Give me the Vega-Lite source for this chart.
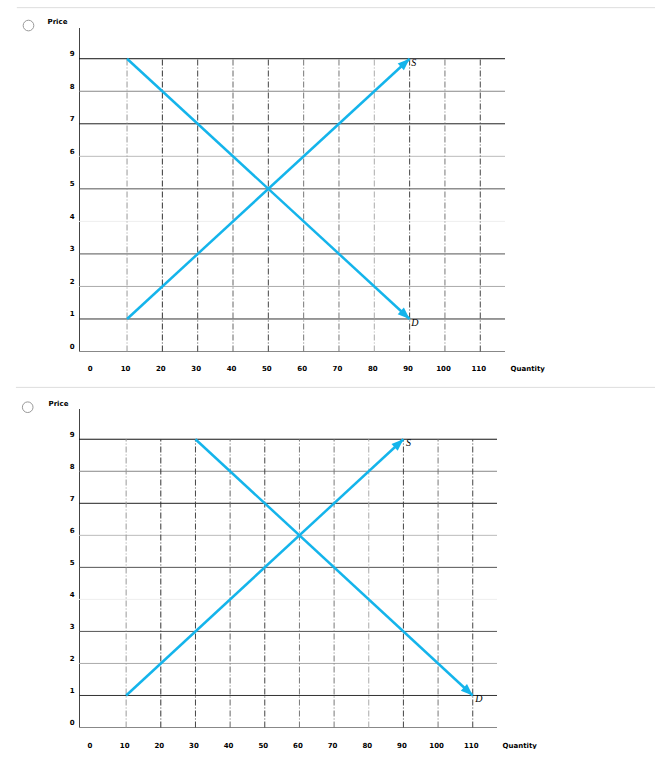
{
  "$schema": "https://vega.github.io/schema/vega-lite/v6.json",
  "background": "white",
  "padding": {"left": 15, "top": 6.5, "right": 0, "bottom": 0},
  "spacing": 15,
  "datasets": {
    "levels": [{"p": 0}, {"p": 1}, {"p": 2}, {"p": 3}, {"p": 4}, {"p": 5}, {"p": 6}, {"p": 7}, {"p": 8}, {"p": 9}],
    "qs": [{"q": 10}, {"q": 20}, {"q": 30}, {"q": 40}, {"q": 50}, {"q": 60}, {"q": 70}, {"q": 80}, {"q": 90}, {"q": 100}, {"q": 110}],
    "curves1": [
      {"curve": "S", "q": 10, "p": 1},
      {"curve": "S", "q": 90, "p": 9},
      {"curve": "D", "q": 10, "p": 9},
      {"curve": "D", "q": 90, "p": 1}
    ],
    "curves2": [
      {"curve": "S", "q": 10, "p": 1},
      {"curve": "S", "q": 90, "p": 9},
      {"curve": "D", "q": 30, "p": 9},
      {"curve": "D", "q": 110, "p": 1}
    ]
  },
  "vconcat": [
    {
      "width": 426,
      "height": 324,
      "layer": [
        {
          "data": {"name": "levels"},
          "mark": {"type": "rule", "strokeWidth": 1},
          "encoding": {
            "y": {
              "field": "p", "type": "quantitative",
              "scale": {"domain": [0, 9.96], "nice": false, "zero": false},
              "axis": {"values": [0, 1, 2, 3, 4, 5, 6, 7, 8, 9], "tickCount": 10, "title": "Price", "titleX": -32, "titleY": -6}
            },
            "color": {
              "field": "p", "type": "ordinal", "legend": null,
              "scale": {"domain": [0, 1, 2, 3, 4, 5, 6, 7, 8, 9], "range": ["#888888", "#333333", "#aaaaaa", "#555555", "#eeeeee", "#555555", "#bbbbbb", "#222222", "#888888", "#111111"]}
            }
          }
        },
        {
          "data": {"name": "qs"},
          "mark": {"type": "rule", "strokeWidth": 1, "strokeDash": [6, 2, 1, 2]},
          "encoding": {
            "x": {
              "field": "q", "type": "quantitative",
              "scale": {"domain": [-3.6, 117], "nice": false, "zero": false},
              "axis": {"values": [0, 10, 20, 30, 40, 50, 60, 70, 80, 90, 100, 110], "tickCount": 12, "labelPadding": 13, "title": "Quantity", "titleX": 431, "titleY": 17}
            },
            "y": {"datum": 0, "type": "quantitative", "scale": {"domain": [0, 9.96], "nice": false, "zero": false}, "axis": {"values": [0, 1, 2, 3, 4, 5, 6, 7, 8, 9], "tickCount": 10, "title": "Price", "titleX": -32, "titleY": -6}},
            "y2": {"datum": 9},
            "stroke": {
              "field": "q", "type": "ordinal", "legend": null,
              "scale": {"domain": [10, 20, 30, 40, 50, 60, 70, 80, 90, 100, 110], "range": ["#999999", "#333333", "#444444", "#666666", "#444444", "#777777", "#777777", "#aaaaaa", "#444444", "#777777", "#444444"]}
            }
          }
        },
        {
          "data": {"values": [{}]},
          "mark": {"type": "rule", "color": "#dddddd", "strokeWidth": 1, "clip": false},
          "encoding": {
            "x": {"datum": -21.2, "type": "quantitative", "scale": {"domain": [-3.6, 117], "nice": false, "zero": false}, "axis": {"values": [0, 10, 20, 30, 40, 50, 60, 70, 80, 90, 100, 110], "tickCount": 12, "labelPadding": 13, "title": "Quantity", "titleX": 431, "titleY": 17}},
            "x2": {"datum": 160},
            "y": {"datum": 10.57, "type": "quantitative", "scale": {"domain": [0, 9.96], "nice": false, "zero": false}, "axis": {"values": [0, 1, 2, 3, 4, 5, 6, 7, 8, 9], "tickCount": 10, "title": "Price", "titleX": -32, "titleY": -6}}
          }
        },
        {
          "data": {"values": [{}]},
          "mark": {"type": "point", "shape": "circle", "size": 113, "filled": false, "color": "#999999", "strokeWidth": 1, "opacity": 1, "clip": false},
          "encoding": {
            "x": {"datum": -17.9, "type": "quantitative", "scale": {"domain": [-3.6, 117], "nice": false, "zero": false}, "axis": {"values": [0, 10, 20, 30, 40, 50, 60, 70, 80, 90, 100, 110], "tickCount": 12, "labelPadding": 13, "title": "Quantity", "titleX": 431, "titleY": 17}},
            "y": {"datum": 10.02, "type": "quantitative", "scale": {"domain": [0, 9.96], "nice": false, "zero": false}, "axis": {"values": [0, 1, 2, 3, 4, 5, 6, 7, 8, 9], "tickCount": 10, "title": "Price", "titleX": -32, "titleY": -6}}
          }
        },
        {
          "data": {"name": "curves1"},
          "mark": {"type": "line", "color": "#14b4eb", "strokeWidth": 2.5},
          "encoding": {
            "x": {"field": "q", "type": "quantitative", "scale": {"domain": [-3.6, 117], "nice": false, "zero": false}, "axis": {"values": [0, 10, 20, 30, 40, 50, 60, 70, 80, 90, 100, 110], "tickCount": 12, "labelPadding": 13, "title": "Quantity", "titleX": 431, "titleY": 17}},
            "y": {"field": "p", "type": "quantitative", "scale": {"domain": [0, 9.96], "nice": false, "zero": false}, "axis": {"values": [0, 1, 2, 3, 4, 5, 6, 7, 8, 9], "tickCount": 10, "title": "Price", "titleX": -32, "titleY": -6}},
            "detail": {"field": "curve"}
          }
        },
        {
          "data": {"name": "curves1"},
          "transform": [
            {"joinaggregate": [{"op": "max", "field": "q", "as": "qmax"}], "groupby": ["curve"]},
            {"filter": "datum.q == datum.qmax"}
          ],
          "mark": {"type": "point", "shape": "M0,0L0.38,1L-0.38,1Z", "size": 576, "filled": true, "color": "#14b4eb", "opacity": 1},
          "encoding": {
            "x": {"field": "q", "type": "quantitative", "scale": {"domain": [-3.6, 117], "nice": false, "zero": false}, "axis": {"values": [0, 10, 20, 30, 40, 50, 60, 70, 80, 90, 100, 110], "tickCount": 12, "labelPadding": 13, "title": "Quantity", "titleX": 431, "titleY": 17}},
            "y": {"field": "p", "type": "quantitative", "scale": {"domain": [0, 9.96], "nice": false, "zero": false}, "axis": {"values": [0, 1, 2, 3, 4, 5, 6, 7, 8, 9], "tickCount": 10, "title": "Price", "titleX": -32, "titleY": -6}},
            "angle": {"field": "curve", "type": "nominal", "scale": {"domain": ["S", "D"], "range": [47.4, 132.6]}, "legend": null}
          }
        },
        {
          "data": {"name": "curves1"},
          "transform": [
            {"joinaggregate": [{"op": "max", "field": "q", "as": "qmax"}], "groupby": ["curve"]},
            {"filter": "datum.q == datum.qmax"}
          ],
          "mark": {"type": "text", "font": "Liberation Serif", "fontStyle": "italic", "fontSize": 10, "color": "#000000", "align": "left", "baseline": "top", "dx": 1.5, "dy": -1},
          "encoding": {
            "x": {"field": "q", "type": "quantitative", "scale": {"domain": [-3.6, 117], "nice": false, "zero": false}, "axis": {"values": [0, 10, 20, 30, 40, 50, 60, 70, 80, 90, 100, 110], "tickCount": 12, "labelPadding": 13, "title": "Quantity", "titleX": 431, "titleY": 17}},
            "y": {"field": "p", "type": "quantitative", "scale": {"domain": [0, 9.96], "nice": false, "zero": false}, "axis": {"values": [0, 1, 2, 3, 4, 5, 6, 7, 8, 9], "tickCount": 10, "title": "Price", "titleX": -32, "titleY": -6}},
            "text": {"field": "curve"}
          }
        }
      ]
    },
    {
      "width": 418,
      "height": 319,
      "layer": [
        {
          "data": {"name": "levels"},
          "mark": {"type": "rule", "strokeWidth": 1},
          "encoding": {
            "y": {
              "field": "p", "type": "quantitative",
              "scale": {"domain": [0, 9.96], "nice": false, "zero": false},
              "axis": {"values": [0, 1, 2, 3, 4, 5, 6, 7, 8, 9], "tickCount": 10, "title": "Price", "titleX": -31, "titleY": -5}
            },
            "color": {
              "field": "p", "type": "ordinal", "legend": null,
              "scale": {"domain": [0, 1, 2, 3, 4, 5, 6, 7, 8, 9], "range": ["#777777", "#dddddd", "#666666", "#eeeeee", "#555555", "#333333", "#333333", "#333333", "#222222", "#888888"]}
            }
          }
        },
        {
          "data": {"name": "qs"},
          "mark": {"type": "rule", "strokeWidth": 1, "strokeDash": [6, 2, 1, 2]},
          "encoding": {
            "x": {
              "field": "q", "type": "quantitative",
              "scale": {"domain": [-3.6, 117], "nice": false, "zero": false},
              "axis": {"values": [0, 10, 20, 30, 40, 50, 60, 70, 80, 90, 100, 110], "tickCount": 12, "labelPadding": 14, "title": "Quantity", "titleX": 423, "titleY": 18}
            },
            "y": {"datum": 0, "type": "quantitative", "scale": {"domain": [0, 9.96], "nice": false, "zero": false}, "axis": {"values": [0, 1, 2, 3, 4, 5, 6, 7, 8, 9], "tickCount": 10, "title": "Price", "titleX": -31, "titleY": -5}},
            "y2": {"datum": 9},
            "stroke": {
              "field": "q", "type": "ordinal", "legend": null,
              "scale": {"domain": [10, 20, 30, 40, 50, 60, 70, 80, 90, 100, 110], "range": ["#999999", "#333333", "#666666", "#444444", "#333333", "#777777", "#777777", "#777777", "#555555", "#888888", "#444444"]}
            }
          }
        },
        {
          "data": {"values": [{}]},
          "mark": {"type": "rule", "color": "#dddddd", "strokeWidth": 1, "clip": false},
          "encoding": {
            "x": {"datum": -21.8, "type": "quantitative", "scale": {"domain": [-3.6, 117], "nice": false, "zero": false}, "axis": {"values": [0, 10, 20, 30, 40, 50, 60, 70, 80, 90, 100, 110], "tickCount": 12, "labelPadding": 14, "title": "Quantity", "titleX": 423, "titleY": 18}},
            "x2": {"datum": 163},
            "y": {"datum": 10.62, "type": "quantitative", "scale": {"domain": [0, 9.96], "nice": false, "zero": false}, "axis": {"values": [0, 1, 2, 3, 4, 5, 6, 7, 8, 9], "tickCount": 10, "title": "Price", "titleX": -31, "titleY": -5}}
          }
        },
        {
          "data": {"values": [{}]},
          "mark": {"type": "point", "shape": "circle", "size": 113, "filled": false, "color": "#999999", "strokeWidth": 1, "opacity": 1, "clip": false},
          "encoding": {
            "x": {"datum": -18.4, "type": "quantitative", "scale": {"domain": [-3.6, 117], "nice": false, "zero": false}, "axis": {"values": [0, 10, 20, 30, 40, 50, 60, 70, 80, 90, 100, 110], "tickCount": 12, "labelPadding": 14, "title": "Quantity", "titleX": 423, "titleY": 18}},
            "y": {"datum": 10.0, "type": "quantitative", "scale": {"domain": [0, 9.96], "nice": false, "zero": false}, "axis": {"values": [0, 1, 2, 3, 4, 5, 6, 7, 8, 9], "tickCount": 10, "title": "Price", "titleX": -31, "titleY": -5}}
          }
        },
        {
          "data": {"name": "curves2"},
          "mark": {"type": "line", "color": "#14b4eb", "strokeWidth": 2.5},
          "encoding": {
            "x": {"field": "q", "type": "quantitative", "scale": {"domain": [-3.6, 117], "nice": false, "zero": false}, "axis": {"values": [0, 10, 20, 30, 40, 50, 60, 70, 80, 90, 100, 110], "tickCount": 12, "labelPadding": 14, "title": "Quantity", "titleX": 423, "titleY": 18}},
            "y": {"field": "p", "type": "quantitative", "scale": {"domain": [0, 9.96], "nice": false, "zero": false}, "axis": {"values": [0, 1, 2, 3, 4, 5, 6, 7, 8, 9], "tickCount": 10, "title": "Price", "titleX": -31, "titleY": -5}},
            "detail": {"field": "curve"}
          }
        },
        {
          "data": {"name": "curves2"},
          "transform": [
            {"joinaggregate": [{"op": "max", "field": "q", "as": "qmax"}], "groupby": ["curve"]},
            {"filter": "datum.q == datum.qmax"}
          ],
          "mark": {"type": "point", "shape": "M0,0L0.38,1L-0.38,1Z", "size": 576, "filled": true, "color": "#14b4eb", "opacity": 1},
          "encoding": {
            "x": {"field": "q", "type": "quantitative", "scale": {"domain": [-3.6, 117], "nice": false, "zero": false}, "axis": {"values": [0, 10, 20, 30, 40, 50, 60, 70, 80, 90, 100, 110], "tickCount": 12, "labelPadding": 14, "title": "Quantity", "titleX": 423, "titleY": 18}},
            "y": {"field": "p", "type": "quantitative", "scale": {"domain": [0, 9.96], "nice": false, "zero": false}, "axis": {"values": [0, 1, 2, 3, 4, 5, 6, 7, 8, 9], "tickCount": 10, "title": "Price", "titleX": -31, "titleY": -5}},
            "angle": {"field": "curve", "type": "nominal", "scale": {"domain": ["S", "D"], "range": [47.4, 132.6]}, "legend": null}
          }
        },
        {
          "data": {"name": "curves2"},
          "transform": [
            {"joinaggregate": [{"op": "max", "field": "q", "as": "qmax"}], "groupby": ["curve"]},
            {"filter": "datum.q == datum.qmax"}
          ],
          "mark": {"type": "text", "font": "Liberation Serif", "fontStyle": "italic", "fontSize": 10, "color": "#000000", "align": "left", "baseline": "top", "dx": 2.5, "dy": -1},
          "encoding": {
            "x": {"field": "q", "type": "quantitative", "scale": {"domain": [-3.6, 117], "nice": false, "zero": false}, "axis": {"values": [0, 10, 20, 30, 40, 50, 60, 70, 80, 90, 100, 110], "tickCount": 12, "labelPadding": 14, "title": "Quantity", "titleX": 423, "titleY": 18}},
            "y": {"field": "p", "type": "quantitative", "scale": {"domain": [0, 9.96], "nice": false, "zero": false}, "axis": {"values": [0, 1, 2, 3, 4, 5, 6, 7, 8, 9], "tickCount": 10, "title": "Price", "titleX": -31, "titleY": -5}},
            "text": {"field": "curve"}
          }
        }
      ]
    }
  ],
  "config": {
    "view": {"stroke": null},
    "axis": {
      "labelFont": "DejaVu Sans", "labelFontSize": 7, "labelFontWeight": "bold", "labelColor": "#000000", "labelOverlap": false,
      "titleFont": "DejaVu Sans", "titleFontSize": 7, "titleFontWeight": "bold", "titleColor": "#000000",
      "grid": false, "ticks": false, "titleAngle": 0, "titleAlign": "left", "titleBaseline": "middle"
    },
    "axisX": {"domain": false, "labelOffset": -2, "labelFlush": false, "tickCount": 12},
    "axisY": {"domain": true, "domainColor": "#444444", "domainWidth": 1, "labelPadding": 5, "labelOffset": -5, "tickCount": 10}
  }
}
